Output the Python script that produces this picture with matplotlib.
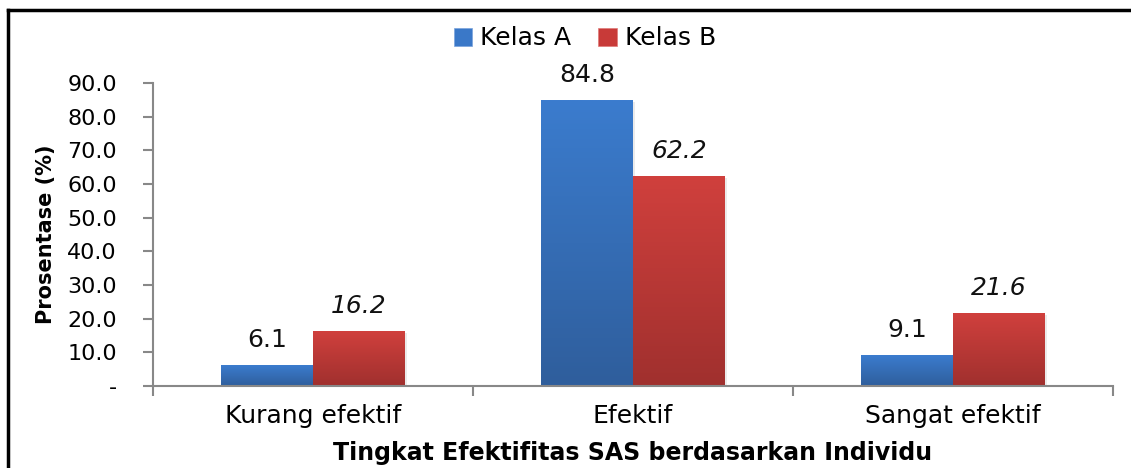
import matplotlib
matplotlib.use('Agg')
import matplotlib.pyplot as plt
import numpy as np
from matplotlib.colors import LinearSegmentedColormap
from matplotlib.lines import Line2D
from matplotlib.patches import Patch

plt.rcParams['font.family'] = ['DejaVu Sans']

categories = ['Kurang efektif', 'Efektif', 'Sangat efektif']
series_names = ['Kelas A', 'Kelas B']
kelas_a = [6.1, 84.8, 9.1]
kelas_b = [16.2, 62.2, 21.6]
y_ticks = [0, 10, 20, 30, 40, 50, 60, 70, 80, 90]
y_tick_labels = ['-', '10.0', '20.0', '30.0', '40.0', '50.0', '60.0', '70.0', '80.0', '90.0']

# warna gradasi ala Excel (atas terang, bawah gelap)
blue_cm = LinearSegmentedColormap.from_list('b', ['#2f5e9c', '#3b7cce'])
red_cm = LinearSegmentedColormap.from_list('r', ['#a0302e', '#d0403d'])

fig = plt.figure(figsize=(11.31, 4.68), dpi=100)
ax = fig.add_axes([0.1353, 0.1752, 0.8487, 0.6474])

x = np.arange(len(categories))
w = 0.2875
grad = np.linspace(0, 1, 256).reshape(-1, 1)

for vals, cm, off, style in [(kelas_a, blue_cm, -w / 2, 'normal'),
                             (kelas_b, red_cm, w / 2, 'italic')]:
    for xi, v in zip(x, vals):
        left = xi + off - w / 2
        # bayangan tipis
        ax.bar(xi + off + 0.006, v, w, bottom=-0.4, color='#000000', alpha=0.08, zorder=1)
        ax.imshow(grad, cmap=cm, aspect='auto', origin='lower',
                  extent=(left, left + w, 0, v), zorder=2)
        ax.text(xi + off, v + 4.0, f'{v:.1f}', ha='center', va='bottom',
                fontsize=18, style=style, color='#111111')

ax.set_xlim(-0.5, len(categories) - 0.5)
ax.set_ylim(0, 90)
ax.set_yticks(y_ticks)
ax.set_yticklabels(y_tick_labels, fontsize=16)
ax.set_xticks(x)
ax.set_xticklabels(categories, fontsize=18)
ax.set_xticks(np.arange(-0.5, len(categories)), minor=True)
ax.tick_params(axis='x', which='major', length=0, pad=13)
ax.tick_params(axis='x', which='minor', length=7, color='#888888', width=1.5)
ax.tick_params(axis='y', length=7, color='#888888', width=1.5, pad=19)

for s in ['top', 'right']:
    ax.spines[s].set_visible(False)
for s in ['left', 'bottom']:
    ax.spines[s].set_color('#888888')
    ax.spines[s].set_linewidth(1.5)

ax.set_ylabel('Prosentase (%)', fontsize=15, fontweight='bold', labelpad=8)
ax.set_xlabel('Tingkat Efektifitas SAS berdasarkan Individu', fontsize=17,
              fontweight='bold', labelpad=9)

handles = [Patch(facecolor='#3a78c8', edgecolor='#7aa4dc', lw=0.5),
           Patch(facecolor='#c83a38', edgecolor='#e07a78', lw=0.5)]
fig.legend(handles, series_names, loc='center', bbox_to_anchor=(0.517, 0.918),
           ncol=2, frameon=False, fontsize=18, handlelength=0.75, handleheight=0.75,
           handletextpad=0.3, columnspacing=1.1)

# bingkai luar (kiri dan atas)
fig.add_artist(Line2D([8 / 1131, 8 / 1131], [0, 1 - 10 / 468], color='black', lw=2.5,
                      transform=fig.transFigure))
fig.add_artist(Line2D([8 / 1131, 1], [1 - 10 / 468, 1 - 10 / 468], color='black', lw=2.5,
                      transform=fig.transFigure))

fig.savefig('out.png', dpi=100)
